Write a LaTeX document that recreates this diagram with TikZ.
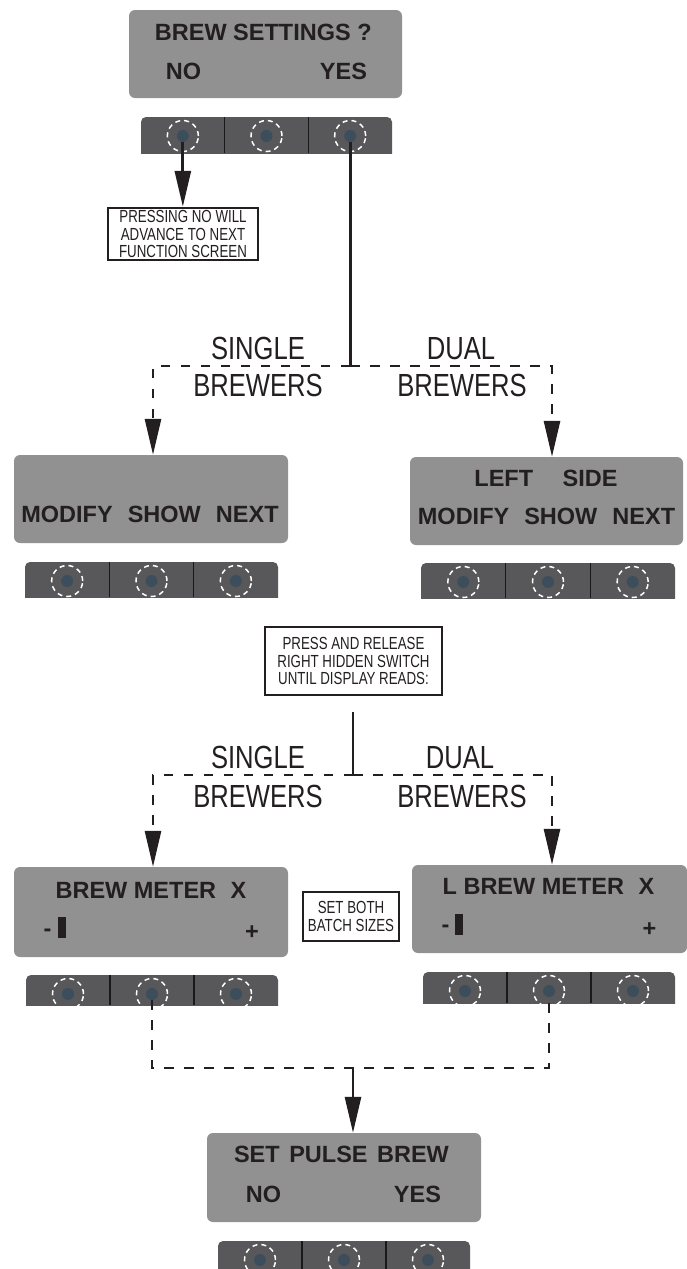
\documentclass[tikz,border=0pt]{standalone}
\usepackage{fontspec}
\setmainfont{Liberation Sans}
\newfontfamily\condf{Liberation Sans}[FakeStretch=0.8]
\newfontfamily\notef{Liberation Sans}[FakeStretch=0.76]
\usetikzlibrary{arrows.meta}
\definecolor{dispgray}{HTML}{919191}
\definecolor{barcol}{HTML}{58585A}
\definecolor{dotcol}{HTML}{3C4E5C}
\definecolor{ink}{HTML}{231F20}
\tikzset{
  dispbox/.style={rectangle, rounded corners=6pt, fill=dispgray, inner sep=0pt},
  dtext/.style={font=\fontsize{23.5}{28}\selectfont\bfseries, text=ink, inner sep=0pt, text height=17pt, text depth=0pt},
  xnote/.style={draw=ink, line width=2.5pt, fill=white, align=center, inner sep=0pt, text=ink, font=\notef\fontsize{17.5}{17.5}\selectfont},
  biglabel/.style={font=\condf\fontsize{32}{34}\selectfont, text=ink, inner sep=0pt, text height=23pt, text depth=0pt},
  btn/.style={circle, fill=dotcol, minimum size=12pt, inner sep=0pt},
  ringline/.style={draw=white, line width=1.5pt, dash pattern=on 5pt off 4pt},
  divider/.style={draw=black!90, line width=1.4pt},
  conn/.style={draw=ink, line width=2.8pt},
  dconn/.style={draw=ink, line width=2.8pt, dash pattern=on 9.5pt off 10.5pt},
  bigarrow/.style={-{Triangle[length=36pt, width=16pt]}},
  cursorbox/.style={fill=ink, minimum width=8pt, minimum height=21pt, inner sep=0pt},
}
\newcommand\keypad[5]{%
  \begin{scope}
    \clip (#2-3,#4-3) rectangle (#3+3,#5);
    \fill[barcol, rounded corners=5pt] (#2,#4) rectangle (#3,#5+10);
    \pgfmathsetmacro\kpa{#2+(#3-#2)/3}
    \pgfmathsetmacro\kpb{#2+2*(#3-#2)/3}
    \draw[divider] (\kpa,#4) -- (\kpa,#5);
    \draw[divider] (\kpb,#4) -- (\kpb,#5);
    \foreach \k/\n in {1/a,2/b,3/c}{
      \pgfmathsetmacro\kx{#2+(#3-#2)*(2*\k-1)/6}
      \node[btn] (#1\n) at (\kx,#4+19) {};
      \draw[ringline] (#1\n.center) circle[radius=15.5pt];
    }
  \end{scope}}
\begin{document}
\begin{tikzpicture}[x=1pt, y=-1pt]
\useasboundingbox[fill=white] (0,0) rectangle (687,1269);

% ---- top display
\node[dispbox, minimum width=273pt, minimum height=88pt] (dTop) at (265.5,54) {};
\node[dtext] (tTop1) at (263.3,32.3) {BREW SETTINGS ?};
\node[dtext] (tTopNo) at (183.5,71) {NO};
\node[dtext] (tTopYes) at (343.5,71) {YES};
\keypad{t}{141}{392}{117}{153}

\node[xnote, minimum width=150pt, minimum height=52pt] (note1) at (183,234)
  {PRESSING NO WILL\\ADVANCE TO NEXT\\FUNCTION SCREEN};
\draw[conn, bigarrow] (ta.south) -- (ta.south |- note1.north);

% ---- first split
\coordinate (h1) at (0,366);
\coordinate (split1) at (tc |- h1);
\draw[conn] (tc.south) -- (split1);

\node[biglabel] (s1) at (258,348) {SINGLE};
\node[biglabel] (s1b) at (258,385) {BREWERS};
\node[biglabel] (d1) at (461,348) {DUAL};
\node[biglabel] (d1b) at (462,385) {BREWERS};

% ---- middle displays
\node[dispbox, minimum width=274pt, minimum height=88pt] (dML) at (151,499) {};
\node[dtext] (tML) at (150,514) {MODIFY\hspace{8.5pt} SHOW\hspace{8.5pt} NEXT};
\keypad{ml}{25}{278}{562}{597}

\node[dispbox, minimum width=273pt, minimum height=88pt] (dMR) at (546.5,501) {};
\node[dtext] (tMR1) at (546,478) {LEFT\hspace{23pt} SIDE};
\node[dtext] (tMR2) at (546.5,516) {MODIFY\hspace{8.5pt} SHOW\hspace{8.5pt} NEXT};
\keypad{mr}{421}{675}{563}{598}

\draw[dconn, bigarrow] (split1) -| ([xshift=2pt]dML.north);
\draw[dconn, bigarrow] (split1) -| ([xshift=5.5pt]dMR.north);

% ---- second note and split
\node[xnote, minimum width=177pt, minimum height=68pt] (note2) at (353.5,661)
  {PRESS AND RELEASE\\RIGHT HIDDEN SWITCH\\UNTIL DISPLAY READS:};
\coordinate (n2out) at (353,712);
\coordinate (split2) at (353,775);
\draw[conn] (n2out) -- (split2);

\node[biglabel] (s2) at (258,756.5) {SINGLE};
\node[biglabel] (s2b) at (258,795.5) {BREWERS};
\node[biglabel] (d2) at (460,756.5) {DUAL};
\node[biglabel] (d2b) at (462,795.5) {BREWERS};

% ---- bottom displays
\node[dispbox, minimum width=274pt, minimum height=90pt] (dBL) at (151,912) {};
\node[dtext] (tBL) at (151,890) {BREW METER\hspace{8pt} X};
\node[dtext] (tBLm) at (47.5,928) {-};
\node[cursorbox] (cBL) at (62,927.5) {};
\node[dtext] (tBLp) at (252,930.5) {+};
\keypad{bl}{26}{278}{975}{1005}

\node[dispbox, minimum width=275pt, minimum height=88pt] (dBR) at (549.5,909) {};
\node[dtext] (tBR) at (548.5,886) {L BREW METER\hspace{8pt} X};
\node[dtext] (tBRm) at (445.5,924) {-};
\node[cursorbox] (cBR) at (459,924) {};
\node[dtext] (tBRp) at (649.5,927.5) {+};
\keypad{br}{423}{675}{972}{1003}

\node[xnote, minimum width=96pt, minimum height=49pt] (note3) at (351,916.5)
  {SET BOTH\\BATCH SIZES};

\draw[dconn, bigarrow] (split2) -| ([xshift=2pt]dBL.north);
\draw[dconn, bigarrow] (split2) -| ([xshift=2.5pt]dBR.north);

% ---- merge
\coordinate (h4) at (0,1068);
\draw[dconn] (blb.south) -- (blb |- h4) -- (brb |- h4) -- (brb.south);
\coordinate (merge) at (353,1068);

% ---- last display
\node[dispbox, minimum width=274pt, minimum height=89pt] (dLast) at (344,1177.5) {};
\node[dtext] (tL1) at (341.5,1154) {SET\hspace{3pt} PULSE\hspace{3pt} BREW};
\node[dtext] (tLno) at (263.5,1194) {NO};
\node[dtext] (tLyes) at (417.5,1194) {YES};
\keypad{lb}{218}{470}{1241}{1269}

\draw[conn, bigarrow] (merge) -- (merge |- dLast.north);
\end{tikzpicture}
\end{document}
